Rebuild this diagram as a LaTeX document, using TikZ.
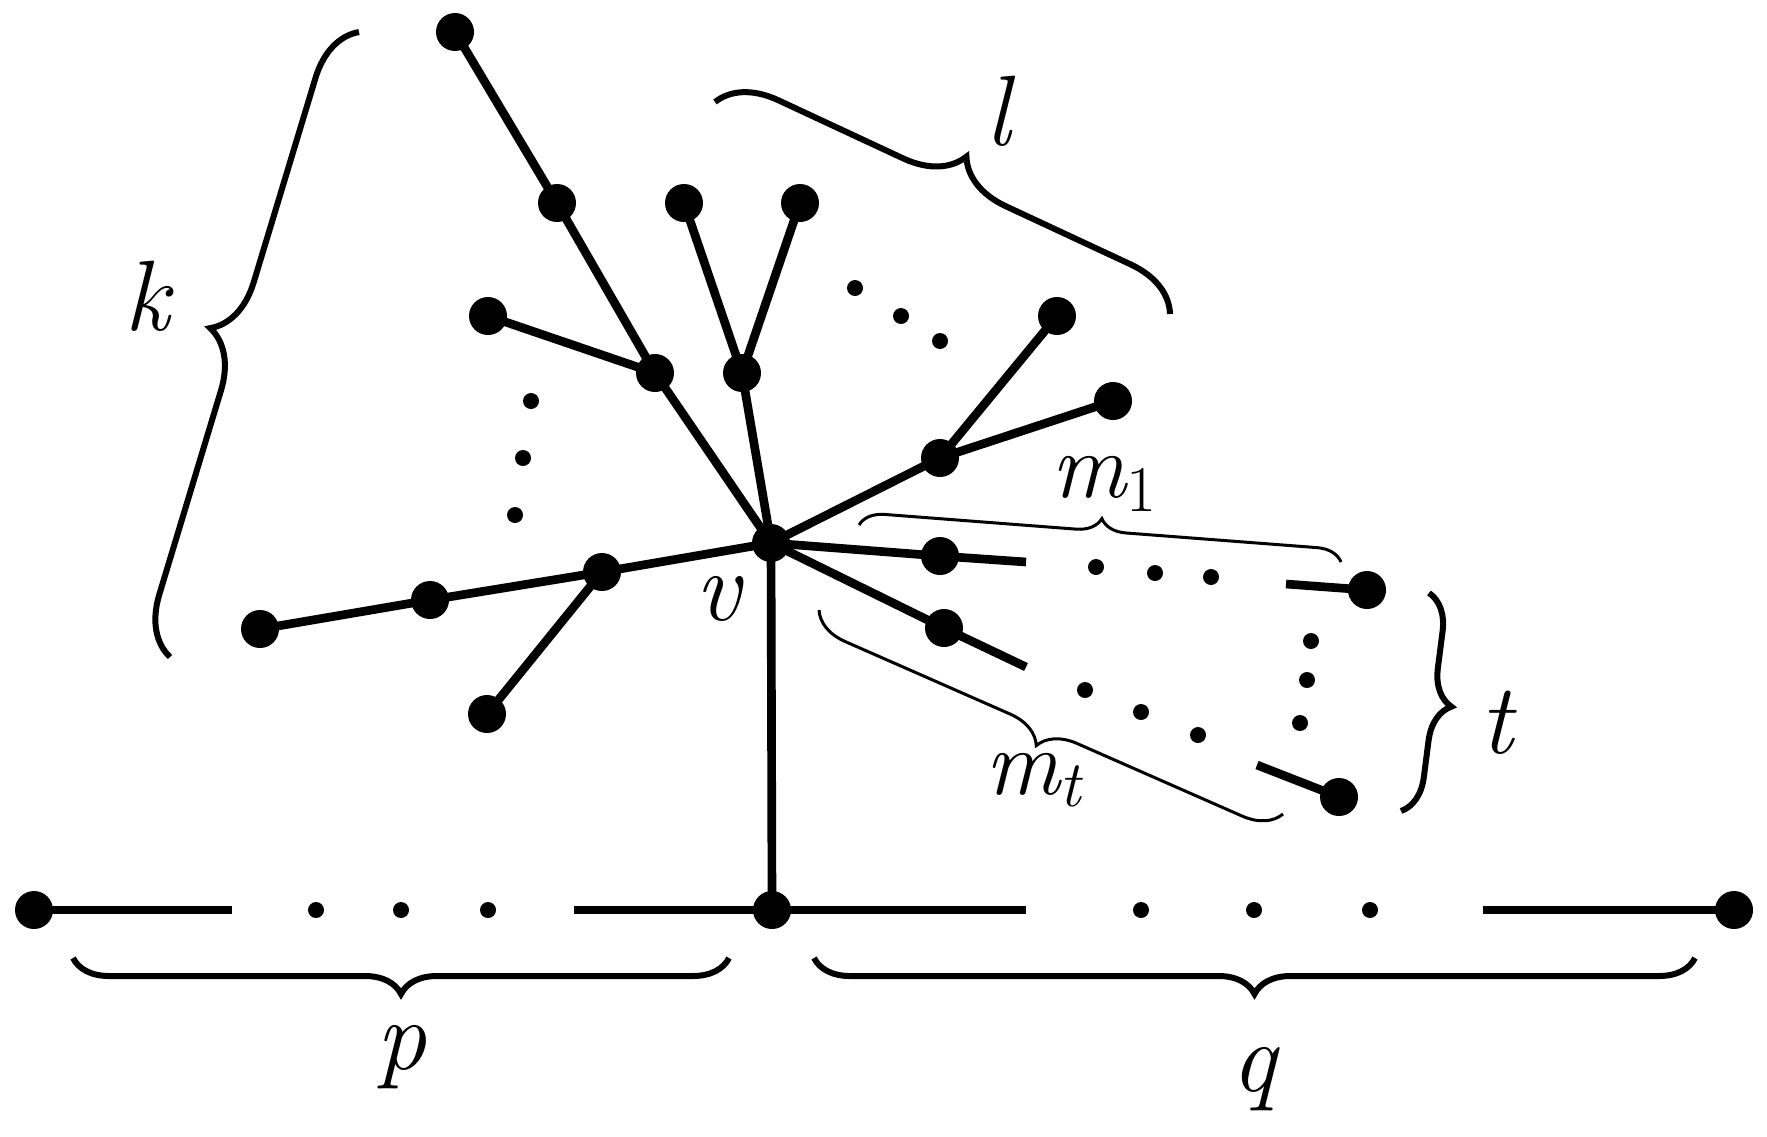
\documentclass[tikz,border=0pt]{standalone}
\usepackage{fontspec}
\usetikzlibrary{decorations.pathreplacing}
\tikzset{every picture/.style={line width=2.6pt}}

\begin{document}
\begin{tikzpicture}[x=0.3pt,y=0.3pt,yscale=-1,xscale=1,
        vtx/.style={circle,fill,inner sep=0pt,outer sep=0pt,minimum size=11.4pt},
        gap/.style={circle,fill,inner sep=0pt,outer sep=0pt,minimum size=4.8pt},
        lbl/.style={inner sep=0pt,font=\fontsize{30}{36}\selectfont\itshape},
        sublbl/.style={inner sep=0pt,font=\fontsize{28}{34}\selectfont\itshape},
        bigbrace/.style={decorate,line width=1.8pt,decoration={brace,amplitude=#1}},
        smallbrace/.style={decorate,line width=0.9pt,decoration={brace,amplitude=#1}}]
        \useasboundingbox (0,0) rectangle (1767,1136);

        %Vertices [id:centre]
        \node [vtx] (v) at (771,543) {};
        \node [vtx] (v0) at (772,910) {};
        \node [vtx] (pL) at (34,910) {};
        \node [vtx] (qR) at (1734,910) {};
        %Vertices [id:left branch]
        \node [vtx] (a1) at (602,572) {};
        \node [vtx] (a2) at (430,600) {};
        \node [vtx] (a3) at (260,629) {};
        \node [vtx] (a4) at (487,714) {};
        %Vertices [id:upper left]
        \node [vtx] (b1) at (655,373) {};
        \node [vtx] (b2) at (557,203) {};
        \node [vtx] (b3) at (455,32) {};
        \node [vtx] (b4) at (488,316) {};
        %Vertices [id:upper]
        \node [vtx] (c1) at (742,373) {};
        \node [vtx] (c2) at (684,203) {};
        \node [vtx] (c3) at (800,203) {};
        %Vertices [id:upper right]
        \node [vtx] (d1) at (940,458) {};
        \node [vtx] (d2) at (1057,316) {};
        \node [vtx] (d3) at (1113,401) {};
        %Vertices [id:paths m]
        \node [vtx] (e1) at (940,556) {};
        \node [vtx] (e2) at (1367,590) {};
        \node [vtx] (f1) at (944,628) {};
        \node [vtx] (f2) at (1339,797) {};

        %Free ends
        \coordinate (pA) at (232,910);
        \coordinate (pB) at (574,910);
        \coordinate (qA) at (1026,910);
        \coordinate (qB) at (1483,910);
        \coordinate (e1s) at (1026,562);
        \coordinate (e2s) at (1286,584);
        \coordinate (f1s) at (1026,667);
        \coordinate (f2s) at (1257,765);

        %Straight Lines
        \draw (v.center) -- (v0.center);
        \draw (pL.center) -- (pA);  \draw (pB) -- (v0.center);
        \draw (v0.center) -- (qA);  \draw (qB) -- (qR.center);
        \draw (v.center) -- (a1.center) -- (a2.center) -- (a3.center);  \draw (a1.center) -- (a4.center);
        \draw (v.center) -- (b1.center) -- (b2.center) -- (b3.center);  \draw (b1.center) -- (b4.center);
        \draw (v.center) -- (c1.center) -- (c2.center);  \draw (c1.center) -- (c3.center);
        \draw (v.center) -- (d1.center) -- (d2.center);  \draw (d1.center) -- (d3.center);
        \draw (v.center) -- (e1.center) -- (e1s);  \draw (e2s) -- (e2.center);
        \draw (v.center) -- (f1.center) -- (f1s);  \draw (f2s) -- (f2.center);

        %Dots
        \foreach \x [count=\i] in {316,401,488} \node [gap] (pd\i) at (\x,910) {};
        \foreach \x [count=\i] in {1141,1254,1370} \node [gap] (qd\i) at (\x,910) {};
        \node [gap] (kd1) at (531,401) {};  \node [gap] (kd2) at (523,458) {};  \node [gap] (kd3) at (515,515) {};
        \node [gap] (ld1) at (855,288) {};  \node [gap] (ld2) at (901,316) {};  \node [gap] (ld3) at (940,341) {};
        \node [gap] (ed1) at (1096,567) {}; \node [gap] (ed2) at (1155,573) {}; \node [gap] (ed3) at (1211,577) {};
        \node [gap] (fd1) at (1085,690) {}; \node [gap] (fd2) at (1141,712) {}; \node [gap] (fd3) at (1198,735) {};
        \node [gap] (td1) at (1311,641) {}; \node [gap] (td2) at (1307,680) {}; \node [gap] (td3) at (1300,723) {};

        %Braces
        \draw [bigbrace=10.8pt] (729,958) -- (73,958);
        \draw [bigbrace=10.8pt] (1695,958) -- (814,958);
        \draw [bigbrace=17pt] (170,657) -- (359,32);
        \draw [bigbrace=17pt] (715,102) -- (1170,314);
        \draw [bigbrace=11pt] (1429,593) -- (1401,811);
        \draw [smallbrace=7.5pt] (859,525) -- (1341,562);
        \draw [smallbrace=11pt] (1283,814) -- (819,610);

        % Text Node
        \node [lbl] (vl) at (718,599) {v};
        % Text Node
        \node [lbl] (kl) at (147,296) {k};
        % Text Node
        \node [lbl] (ll) at (998,111) {l};
        % Text Node
        \node [lbl] (tl) at (1497,723) {t};
        % Text Node
        \node [lbl] (pl) at (401,1057) {p};
        % Text Node
        \node [lbl] (ql) at (1254,1079) {q};
        % Text Node
        \node [sublbl] (m1l) at (1105,484) {m\textsubscript{\upshape 1}};
        % Text Node
        \node [sublbl] (mtl) at (1034,780) {m\textsubscript{t}};

\end{tikzpicture}
\end{document}
